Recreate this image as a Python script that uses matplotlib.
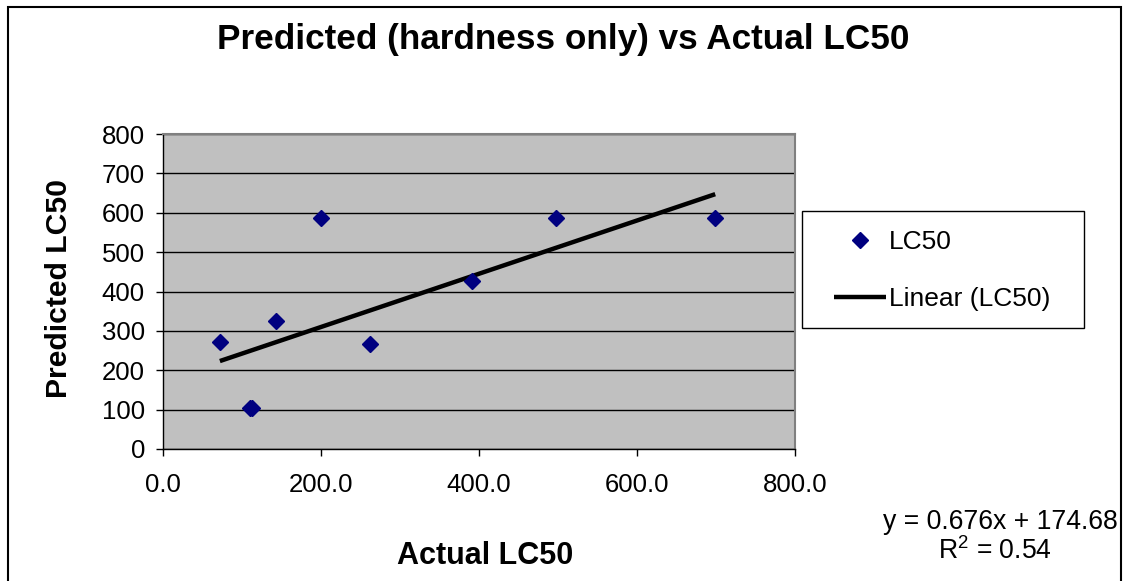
import matplotlib
matplotlib.use("Agg")
import matplotlib.pyplot as plt
from matplotlib.patches import Rectangle
from matplotlib.ticker import FormatStrFormatter, MultipleLocator

plt.rcParams['font.family'] = ['Liberation Sans', 'DejaVu Sans']
plt.rcParams['mathtext.default'] = 'regular'

# data
actual = [72, 110, 113, 143, 200, 262, 391, 497, 699]
predicted = [273, 105, 105, 325, 587, 266, 426, 587, 587]

# trendline from the chart's equation
slope = 0.676
intercept = 174.68
r_squared = 0.54

title = "Predicted (hardness only) vs Actual LC50"
x_label = "Actual LC50"
y_label = "Predicted LC50"

W, H = 1130, 581
fig = plt.figure(figsize=(W / 100, H / 100), dpi=100)
fig.patch.set_facecolor('white')

# plot area in pixels: left 163, right 795, top 134, bottom 449
ax = fig.add_axes([163 / W, 1 - 449 / H, (795 - 163) / W, (449 - 134) / H])
ax.set_facecolor('#C0C0C0')

ax.set_xlim(0, 800)
ax.set_ylim(0, 800)
ax.xaxis.set_major_locator(MultipleLocator(200))
ax.yaxis.set_major_locator(MultipleLocator(100))
ax.xaxis.set_major_formatter(FormatStrFormatter('%.1f'))
ax.yaxis.grid(True, color='black', linewidth=1)
ax.set_axisbelow(True)

for side in ['top', 'right']:
    ax.spines[side].set_color('#808080')
    ax.spines[side].set_linewidth(1.5)
for side in ['left', 'bottom']:
    ax.spines[side].set_color('black')
    ax.spines[side].set_linewidth(1)

ax.tick_params(axis='x', direction='out', length=5, width=1, labelsize=18.5, pad=12)
ax.tick_params(axis='y', direction='out', length=5, width=1, labelsize=18.5, pad=8)

# scatter points
ax.plot(actual, predicted, linestyle='none', marker='D', markersize=8,
        color='#000080', label='LC50', zorder=4)

# linear trendline over the data range
x_fit = [min(actual), max(actual)]
y_fit = [slope * x + intercept for x in x_fit]
ax.plot(x_fit, y_fit, color='black', linewidth=3.2, label='Linear (LC50)',
        solid_capstyle='butt', zorder=3)

# legend box to the right of the plot (frame drawn separately)
fig.patches.append(Rectangle((802 / W, 1 - 328 / H), (1084 - 802) / W, (328 - 211) / H,
                             transform=fig.transFigure, fill=False,
                             edgecolor='black', linewidth=1))
handles, labels = ax.get_legend_handles_labels()
leg = fig.legend(handles, labels, loc='upper left',
                 bbox_to_anchor=(834 / W, 1 - 230 / H),
                 fontsize=19, frameon=False, borderpad=0, borderaxespad=0,
                 labelspacing=1.25, handlelength=1.97, handletextpad=0.1)

# title and axis labels
fig.text(563 / W, 1 - 39 / H, title, ha='center', va='center',
         fontsize=25.3, fontweight='bold')
fig.text(485 / W, 1 - 556 / H, x_label, ha='center', va='center',
         fontsize=22, fontweight='bold')
fig.text(59 / W, 1 - 289 / H, y_label, ha='center', va='center',
         fontsize=21.7, fontweight='bold', rotation=90)

# trendline equation
fig.text(1000 / W, 1 - 522 / H, f"y = {slope}x + {intercept}", ha='center',
         va='center', fontsize=19.2)
fig.text(995 / W, 1 - 551 / H, f"R$^{{2}}$ = {r_squared}", ha='center',
         va='center', fontsize=19.2)

# outer chart border
fig.patches.append(Rectangle((8 / W, -0.05), (1121 - 8) / W, 1.05 - 7 / H,
                             transform=fig.transFigure, fill=False,
                             edgecolor='black', linewidth=1.5))

fig.savefig('out.png', dpi=100)
